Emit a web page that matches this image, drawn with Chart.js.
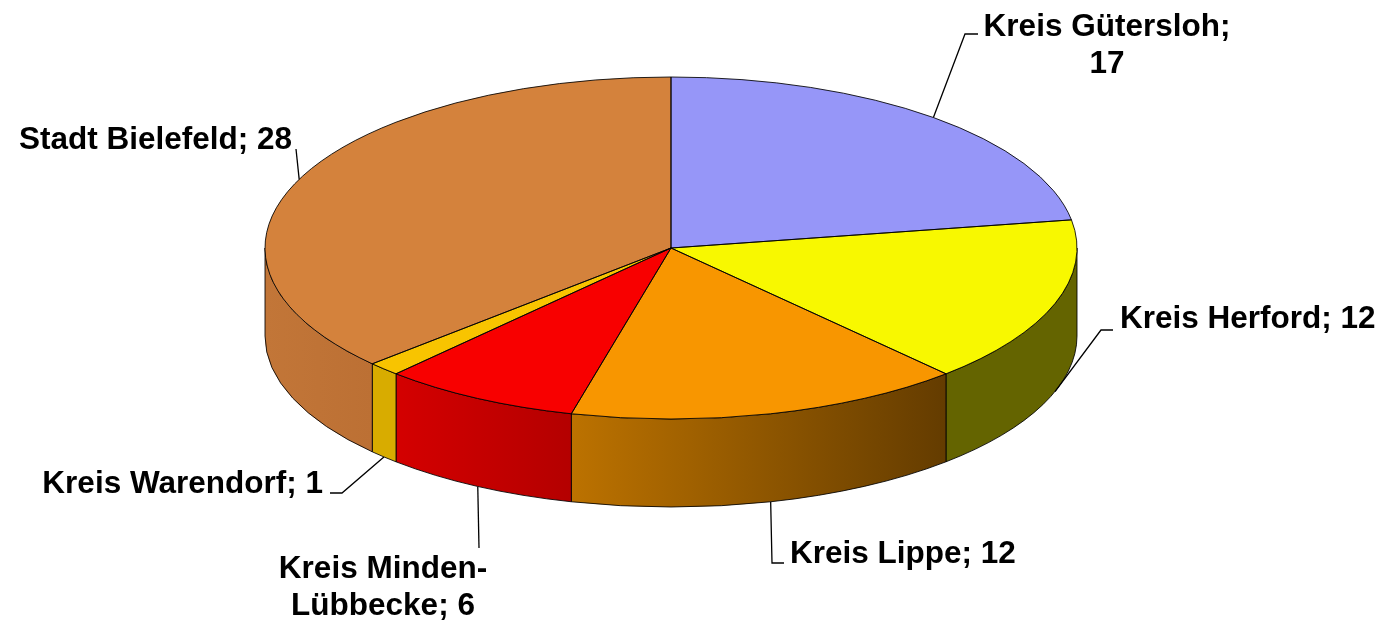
<!DOCTYPE html>
<html>
<head>
<meta charset="utf-8">
<title>Pie 3D</title>
<script src="https://cdn.jsdelivr.net/npm/chart.js@4/dist/chart.umd.min.js"></script>
<style>
  html, body { margin: 0; padding: 0; background: #fff; }
  #wrap { width: 1388px; height: 622px; }
</style>
</head>
<body>
<div id="wrap"><canvas id="pieChart" width="1388" height="622"></canvas></div>
<script>
// ===== Dados =====
const categories = ["Kreis Gütersloh", "Kreis Herford", "Kreis Lippe", "Kreis Minden-Lübbecke", "Kreis Warendorf", "Stadt Bielefeld"];
const values = [17, 12, 12, 6, 1, 28];
const labelText = [
  ["Kreis Gütersloh;", "17"],
  ["Kreis Herford; 12"],
  ["Kreis Lippe; 12"],
  ["Kreis Minden-", "Lübbecke; 6"],
  ["Kreis Warendorf; 1"],
  ["Stadt Bielefeld; 28"]
];

// ===== Cores =====
const topColors = ["#9696f8", "#f8f800", "#f89600", "#f80000", "#f8c400", "#d4823c"];
const sideColors = [
  ["#6a6ab0", "#6a6ab0"],
  ["#646400", "#646400"],
  ["#bc7200", "#643c00"],
  ["#d40000", "#b40000"],
  ["#d8ac00", "#d8ac00"],
  ["#c27638", "#bc7034"]
];

// ===== Geometria da elipse =====
const CX = 671, CY = 248, RX = 406, RY = 171, DEPTH = 88;
const FONT = "bold 31.5px 'Liberation Sans', Arial, sans-serif";

// posição dos rótulos e pontos das linhas de chamada
const labelLayout = [
  { x: 1107, y: 36, align: "center", leader: [[965, 34], [978, 34]] },
  { x: 1120, y: 328, align: "left", leader: [[1101, 330], [1113, 330]] },
  { x: 790, y: 563, align: "left", leader: [[772, 563], [784, 563]] },
  { x: 383, y: 578, align: "center", leader: [[479, 548]] },
  { x: 323, y: 493, align: "right", leader: [[342, 493], [330, 493]] },
  { x: 292, y: 149, align: "right", leader: [[296, 149]] }
];

const px = a => CX + RX * Math.cos(a);
const py = a => CY + RY * Math.sin(a);

const pie3d = {
  id: "pie3d",
  beforeDatasetsDraw(chart) {
    const ctx = chart.ctx;
    const arcs = chart.getDatasetMeta(0).data;

    // Paredes laterais (só a metade da frente)
    arcs.forEach((arc, i) => {
      const a1 = Math.max(arc.startAngle, 0);
      const a2 = Math.min(arc.endAngle, Math.PI);
      if (a2 <= a1) return;
      const g = ctx.createLinearGradient(px(a2), 0, px(a1), 0);
      g.addColorStop(0, sideColors[i][0]);
      g.addColorStop(1, sideColors[i][1]);
      ctx.beginPath();
      ctx.ellipse(CX, CY, RX, RY, 0, a1, a2, false);
      ctx.lineTo(px(a2), py(a2) + DEPTH);
      ctx.ellipse(CX, CY + DEPTH, RX, RY, 0, a2, a1, true);
      ctx.closePath();
      ctx.fillStyle = g;
      ctx.fill();
      ctx.lineWidth = 1;
      ctx.strokeStyle = "rgba(0,0,0,0.85)";
      ctx.stroke();
    });

    // achata o círculo do Chart.js em elipse
    const a0 = arcs[0];
    const R = a0.outerRadius;
    ctx.save();
    ctx.translate(CX, CY);
    ctx.scale(RX / R, RY / R);
    ctx.translate(-a0.x, -a0.y);
  },
  afterDatasetsDraw(chart) {
    const ctx = chart.ctx;
    ctx.restore();
    const arcs = chart.getDatasetMeta(0).data;

    // contorno das fatias no topo
    ctx.lineWidth = 1;
    ctx.strokeStyle = "rgba(0,0,0,0.85)";
    arcs.forEach(arc => {
      ctx.beginPath();
      ctx.moveTo(CX, CY);
      ctx.lineTo(px(arc.startAngle), py(arc.startAngle));
      ctx.ellipse(CX, CY, RX, RY, 0, arc.startAngle, arc.endAngle, false);
      ctx.closePath();
      ctx.stroke();
    });
  },
  afterDraw(chart) {
    const ctx = chart.ctx;
    const arcs = chart.getDatasetMeta(0).data;
    ctx.save();
    ctx.font = FONT;
    ctx.fillStyle = "#000";
    ctx.strokeStyle = "#000";
    ctx.lineWidth = 1.3;

    arcs.forEach((arc, i) => {
      const lay = labelLayout[i];
      const mid = (arc.startAngle + arc.endAngle) / 2;
      const front = mid > 0 && mid < Math.PI;
      const ax = px(mid);
      const ay = py(mid) + (front ? DEPTH : 0);

      // linha de chamada
      ctx.beginPath();
      ctx.moveTo(ax, ay);
      lay.leader.forEach(p => ctx.lineTo(p[0], p[1]));
      ctx.stroke();

      // texto
      ctx.textAlign = lay.align;
      ctx.textBaseline = "alphabetic";
      labelText[i].forEach((line, k) => {
        ctx.fillText(line, lay.x, lay.y + k * 37);
      });
    });
    ctx.restore();
  }
};

new Chart(document.getElementById("pieChart").getContext("2d"), {
  type: "pie",
  data: {
    labels: categories,
    datasets: [{
      data: values,
      backgroundColor: topColors,
      borderWidth: 0,
      clip: false
    }]
  },
  options: {
    responsive: false,
    animation: false,
    layout: { padding: 0 },
    plugins: {
      legend: { display: false },
      tooltip: { enabled: false }
    }
  },
  plugins: [pie3d]
});
</script>
</body>
</html>
